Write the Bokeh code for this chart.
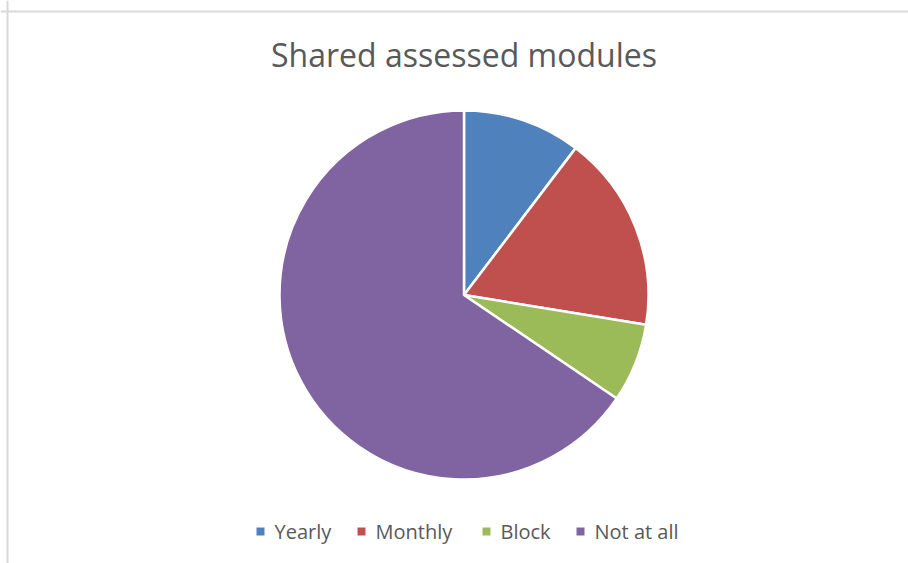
import numpy as np
from bokeh.plotting import figure
from bokeh.models import Range1d, Span, ColumnDataSource
from bokeh.core.properties import value
from bokeh.embed import file_html
from bokeh.resources import INLINE

# ---- data ----
title = "Shared assessed modules"
categories = ["Yearly", "Monthly", "Block", "Not at all"]
counts = [3, 5, 2, 19]
colors = ["#4F81BD", "#C0504D", "#9BBB59", "#8064A2"]

W, H = 908, 563
p = figure(width=W, height=H, output_backend="svg", toolbar_location=None,
           x_range=Range1d(0, W), y_range=Range1d(0, H), min_border=0)
p.axis.visible = False
p.grid.visible = False
p.outline_line_color = None
p.background_fill_color = "white"
p.border_fill_color = "white"

# chart border (left/top visible)
p.add_layout(Span(location=7, dimension="height", line_color="#d9d9d9", line_width=2))
p.add_layout(Span(location=H - 11, dimension="width", line_color="#d9d9d9", line_width=2))

# pie
vals = np.array(counts, dtype=float)
frac = vals / vals.sum()
cum = np.concatenate([[0], np.cumsum(frac)])
start = np.pi / 2 - cum[:-1] * 2 * np.pi
end = np.pi / 2 - cum[1:] * 2 * np.pi
cx, cy = 463.5, H - 294.5
src = ColumnDataSource(dict(start=start, end=end, color=colors, cat=categories))
p.wedge(x=cx, y=cy, radius=184.5, radius_units="screen", start_angle="start", end_angle="end",
        direction="clock", fill_color="color", line_color="white", line_width=2.5, source=src)

# title
p.text(x=[cx], y=[H - 54], text=[title], text_font=value("Open Sans"), text_font_size="32px",
       text_color="#595959", text_align="center", text_baseline="middle")

# legend
sq_x = [260, 361, 486, 580]
ly = H - 531
lsrc = ColumnDataSource(dict(x=sq_x, tx=[x + 14 for x in sq_x], y=[ly] * 4, color=colors, cat=categories))
p.rect(x="x", y="y", width=8, height=8, width_units="screen", height_units="screen",
       fill_color="color", line_color=None, source=lsrc)
p.text(x="tx", y="y", text="cat", text_font=value("Open Sans"), text_font_size="20px",
       text_color="#595959", text_align="left", text_baseline="middle", source=lsrc)

open("out.html", "w").write(file_html(p, INLINE))
